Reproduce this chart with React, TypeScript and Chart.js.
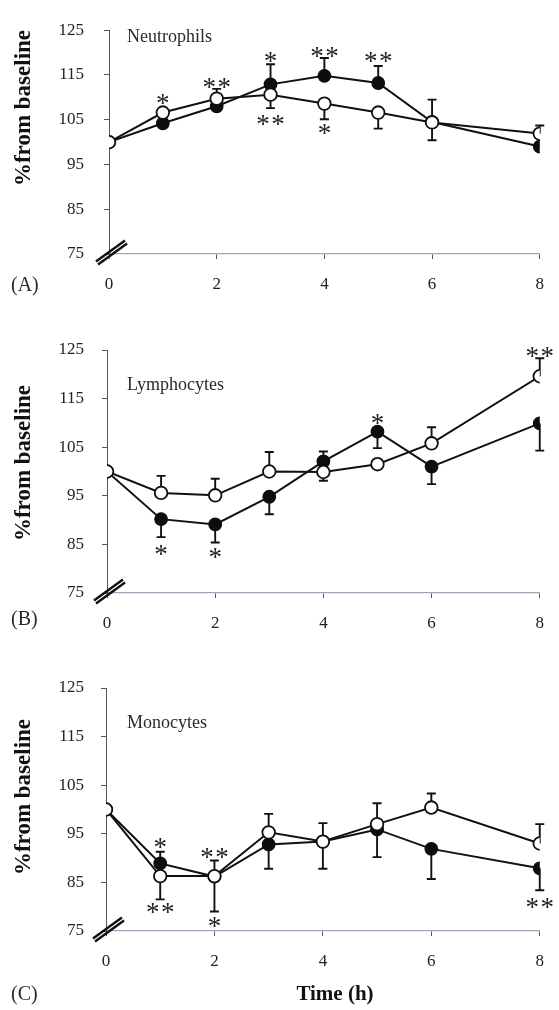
import React, { useEffect, useRef } from "react";
import { Chart, registerables } from "chart.js";

Chart.register(...registerables);

// ---------- data ----------
const hours = [0, 1, 2, 3, 4, 5, 6, 8];
const xTickValues = [0, 2, 4, 6, 8];
const yTickValues = [75, 85, 95, 105, 115, 125];

// (A) Neutrophils
const neutroFilled = [100, 104.2, 108.0, 112.9, 114.8, 113.2, 104.5, 99.0];
const neutroOpen = [100, 106.6, 109.7, 110.6, 108.6, 106.6, 104.4, 101.9];
const neutroFilledErrUp = [0, 0, 0, 4.5, 4.0, 3.8, 5.0, 0];
const neutroFilledErrDown = [0, 0, 0, 0, 0, 0, 0, 0];
const neutroOpenErrUp = [0, 0, 2.2, 0, 0, 0, 0, 1.8];
const neutroOpenErrDown = [0, 0, 0, 3.0, 3.5, 3.6, 4.0, 0];
const neutroStarX = [1, 2, 3, 4, 5, 3, 4];
const neutroStarY = [109.6, 113.2, 118.8, 120.1, 118.8, 104.9, 102.9];
const neutroStarText = ["*", "**", "*", "**", "**", "**", "*"];

// (B) Lymphocytes
const lymphoFilled = [100, 90.2, 89.1, 94.8, 102.1, 108.2, 101.0, 109.9];
const lymphoOpen = [100, 95.6, 95.1, 100, 99.9, 101.5, 105.8, 119.6];
const lymphoFilledErrUp = [0, 0, 0, 0, 2.0, 0, 0, 0];
const lymphoFilledErrDown = [0, 3.7, 3.7, 3.6, 0, 3.4, 3.6, 5.6];
const lymphoOpenErrUp = [0, 3.5, 3.4, 4.0, 0, 0, 3.3, 3.7];
const lymphoOpenErrDown = [0, 0, 0, 0, 1.8, 0, 0, 0];
const lymphoStarX = [1, 2, 5, 8];
const lymphoStarY = [83.8, 83.2, 110.6, 124.5];
const lymphoStarText = ["*", "*", "*", "**"];

// (C) Monocytes
const monoFilled = [100, 88.9, 86.2, 92.8, 93.4, 95.9, 91.9, 87.9];
const monoOpen = [100, 86.3, 86.3, 95.3, 93.4, 97.0, 100.4, 93.0];
const monoFilledErrUp = [0, 2.4, 0, 0, 0, 0, 0, 0];
const monoFilledErrDown = [0, 0, 7.2, 5.0, 5.6, 5.7, 6.2, 4.5];
const monoOpenErrUp = [0, 0, 3.2, 3.8, 3.8, 4.3, 2.9, 4.0];
const monoOpenErrDown = [0, 4.8, 0, 0, 0, 0, 0, 0];
const monoStarX = [1, 1, 2, 2, 8];
const monoStarY = [93.0, 79.6, 91.0, 76.7, 80.7];
const monoStarText = ["*", "**", "**", "*", "**"];

const yTitle = "%from baseline";
const xTitle = "Time (h)";

// ---------- drawing ----------
const SERIF = '"Liberation Serif", "Times New Roman", serif';
const PAGE_W = 559;

type PanelProps = {
  top: number;
  height: number;
  padTop: number;
  padBottom: number;
  left: number;
  right: number;
  name: string;
  letter: string;
  filled: number[];
  open: number[];
  fUp: number[];
  fDown: number[];
  oUp: number[];
  oDown: number[];
  starX: number[];
  starY: number[];
  starText: string[];
  titleY: number;
  nameY: number;
  letterY: number;
  yTickPad: number;
  showTime?: boolean;
};

function Panel(p: PanelProps) {
  const ref = useRef<HTMLCanvasElement | null>(null);

  useEffect(() => {
    if (!ref.current) return;

    const deco = {
      id: "deco",
      beforeDatasetsDraw(chart: any) {
        const ctx = chart.ctx;
        const xs = chart.scales.x;
        const ys = chart.scales.y;
        ctx.save();
        ctx.strokeStyle = "#111";
        ctx.lineWidth = 1.9;
        const bar = (h: number, v: number, e: number) => {
          if (!e) return;
          const px = xs.getPixelForValue(h);
          const p0 = ys.getPixelForValue(v);
          const p1 = ys.getPixelForValue(v + e);
          ctx.beginPath();
          ctx.moveTo(px, p0);
          ctx.lineTo(px, p1);
          ctx.moveTo(px - 4.5, p1);
          ctx.lineTo(px + 4.5, p1);
          ctx.stroke();
        };
        hours.forEach((h, i) => {
          bar(h, p.filled[i], p.fUp[i]);
          bar(h, p.filled[i], -p.fDown[i]);
          bar(h, p.open[i], p.oUp[i]);
          bar(h, p.open[i], -p.oDown[i]);
        });
        ctx.restore();
      },
      afterDraw(chart: any) {
        const ctx = chart.ctx;
        const xs = chart.scales.x;
        const ys = chart.scales.y;
        ctx.save();
        // significance stars
        ctx.fillStyle = "#222";
        ctx.font = `27px ${SERIF}`;
        ctx.textAlign = "center";
        ctx.textBaseline = "alphabetic";
        const m = ctx.measureText("*");
        const off = (m.actualBoundingBoxAscent - m.actualBoundingBoxDescent) / 2;
        p.starX.forEach((sx, i) => {
          const t = p.starText[i];
          const cx = xs.getPixelForValue(sx);
          const cy = ys.getPixelForValue(p.starY[i]);
          const n = t.length;
          for (let k = 0; k < n; k++) {
            const dx = (k - (n - 1) / 2) * 15;
            ctx.fillText("*", cx + dx, cy + off);
          }
        });

        // axis break mark
        const ox = xs.getPixelForValue(0);
        const oy = ys.getPixelForValue(75);
        ctx.strokeStyle = "#111";
        ctx.lineWidth = 2.4;
        for (const s of [-1.8, 1.8]) {
          ctx.beginPath();
          ctx.moveTo(ox - 12 + s * 0.57, oy + 9 + s * 0.82);
          ctx.lineTo(ox + 17 + s * 0.57, oy - 12 + s * 0.82);
          ctx.stroke();
        }

        // panel name
        ctx.fillStyle = "#2a2a2a";
        ctx.font = `18px ${SERIF}`;
        ctx.textAlign = "left";
        ctx.textBaseline = "middle";
        ctx.fillText(p.name, 127, p.nameY - p.top);

        // panel letter
        ctx.font = `20px ${SERIF}`;
        ctx.fillText(p.letter, 11, p.letterY - p.top);

        // y title
        ctx.save();
        ctx.fillStyle = "#111";
        ctx.font = `bold 23px ${SERIF}`;
        ctx.translate(24, p.titleY - p.top);
        ctx.rotate(-Math.PI / 2);
        ctx.textAlign = "center";
        ctx.textBaseline = "middle";
        ctx.fillText(yTitle, 0, 0);
        ctx.restore();

        if (p.showTime) {
          ctx.fillStyle = "#111";
          ctx.font = `bold 21px ${SERIF}`;
          ctx.textAlign = "center";
          ctx.textBaseline = "middle";
          ctx.fillText(xTitle, 335, 995 - p.top);
        }
        ctx.restore();
      },
    };

    const chart = new Chart(ref.current, {
      type: "line",
      data: {
        datasets: [
          {
            label: "open",
            data: hours.map((h, i) => ({ x: h, y: p.open[i] })),
            borderColor: "#111",
            borderWidth: 2,
            pointRadius: 6.3,
            pointBackgroundColor: "#ffffff",
            pointBorderColor: "#111",
            pointBorderWidth: 1.8,
            tension: 0,
            order: 0,
          },
          {
            label: "filled",
            data: hours.map((h, i) => ({ x: h, y: p.filled[i] })),
            borderColor: "#111",
            borderWidth: 2,
            pointRadius: 6.3,
            pointBackgroundColor: "#0d0d0d",
            pointBorderColor: "#0d0d0d",
            pointBorderWidth: 1.2,
            tension: 0,
            order: 1,
          },
        ],
      },
      options: {
        animation: false,
        responsive: true,
        maintainAspectRatio: false,
        layout: {
          padding: { top: p.padTop, bottom: p.padBottom, left: 0, right: PAGE_W - p.right },
        },
        plugins: {
          legend: { display: false },
          tooltip: { enabled: false },
        },
        scales: {
          x: {
            type: "linear",
            min: 0,
            max: 8,
            afterBuildTicks: (s: any) => {
              s.ticks = xTickValues.map((v) => ({ value: v }));
            },
            afterFit: (s: any) => {
              s.height = 46;
            },
            ticks: {
              font: { family: SERIF, size: 17 },
              color: "#222",
              padding: 15,
              maxRotation: 0,
              autoSkip: false,
            },
            grid: {
              drawOnChartArea: false,
              drawTicks: true,
              tickLength: 5,
              color: "#555",
              lineWidth: 1,
            },
            border: { display: true, color: "#9ea6b8", width: 1.3 },
          },
          y: {
            type: "linear",
            min: 75,
            max: 125,
            afterBuildTicks: (s: any) => {
              s.ticks = yTickValues.map((v) => ({ value: v }));
            },
            afterFit: (s: any) => {
              s.width = p.left;
            },
            ticks: {
              font: { family: SERIF, size: 17 },
              color: "#222",
              padding: p.yTickPad,
            },
            grid: {
              drawOnChartArea: false,
              drawTicks: true,
              tickLength: 5,
              color: "#555",
              lineWidth: 1,
            },
            border: { display: true, color: "#555", width: 1 },
          },
        },
      },
      plugins: [deco],
    } as any);

    return () => chart.destroy();
  }, []);

  return (
    <div
      style={{
        position: "absolute",
        left: 0,
        top: p.top,
        width: PAGE_W,
        height: p.height,
      }}
    >
      <canvas ref={ref} />
    </div>
  );
}

export default function App() {
  return (
    <div
      style={{
        position: "absolute",
        left: 0,
        top: 0,
        width: PAGE_W,
        height: 1010,
        background: "#ffffff",
        overflow: "hidden",
      }}
    >
      <Panel
        top={0}
        height={305}
        padTop={15}
        padBottom={5}
        left={109}
        right={544}
        name="Neutrophils"
        letter="(A)"
        filled={neutroFilled}
        open={neutroOpen}
        fUp={neutroFilledErrUp}
        fDown={neutroFilledErrDown}
        oUp={neutroOpenErrUp}
        oDown={neutroOpenErrDown}
        starX={neutroStarX}
        starY={neutroStarY}
        starText={neutroStarText}
        titleY={108}
        nameY={37}
        letterY={286}
        yTickPad={20}
      />
      <Panel
        top={310}
        height={335}
        padTop={40}
        padBottom={6}
        left={107}
        right={544}
        name="Lymphocytes"
        letter="(B)"
        filled={lymphoFilled}
        open={lymphoOpen}
        fUp={lymphoFilledErrUp}
        fDown={lymphoFilledErrDown}
        oUp={lymphoOpenErrUp}
        oDown={lymphoOpenErrDown}
        starX={lymphoStarX}
        starY={lymphoStarY}
        starText={lymphoStarText}
        titleY={463}
        nameY={385}
        letterY={620}
        yTickPad={18}
      />
      <Panel
        top={650}
        height={360}
        padTop={38}
        padBottom={33}
        left={106}
        right={545}
        name="Monocytes"
        letter="(C)"
        filled={monoFilled}
        open={monoOpen}
        fUp={monoFilledErrUp}
        fDown={monoFilledErrDown}
        oUp={monoOpenErrUp}
        oDown={monoOpenErrDown}
        starX={monoStarX}
        starY={monoStarY}
        starText={monoStarText}
        titleY={797}
        nameY={723}
        letterY={995}
        yTickPad={17}
        showTime
      />
    </div>
  );
}
